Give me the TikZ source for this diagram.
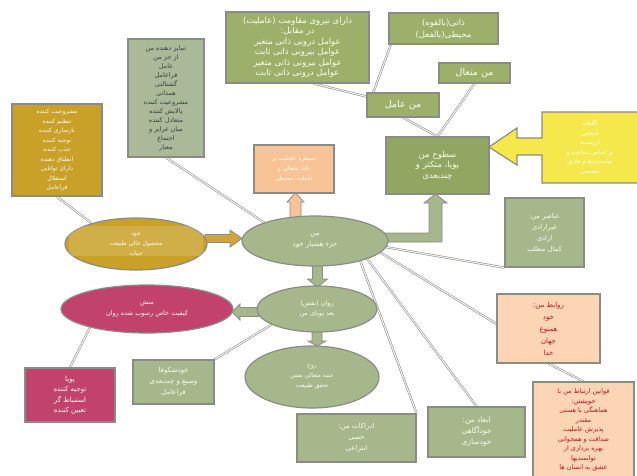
\documentclass[tikz,border=0pt]{standalone}
\usepackage{fontspec}
\usepackage{tikz}
\usetikzlibrary{shapes.geometric}
\usetikzlibrary{backgrounds}
\newfontfamily\fafont[Script=Arabic]{DejaVu Sans}
\TeXXeTstate=1
\newcommand{\fa}[1]{\beginR #1\endR}
\definecolor{edge}{HTML}{8C8C86}
\definecolor{olive}{HTML}{9CB06A}
\definecolor{deepolive}{HTML}{90A661}
\definecolor{sage}{HTML}{A5B78B}
\definecolor{ash}{HTML}{AAB997}
\definecolor{mustard}{HTML}{C9A128}
\definecolor{mustarrow}{HTML}{D6A23C}
\definecolor{berry}{HTML}{C2426E}
\definecolor{peach}{HTML}{FCD5B5}
\definecolor{apricot}{HTML}{F8C497}
\definecolor{lemon}{HTML}{F5E84C}
\definecolor{ink}{HTML}{C0141C}
\definecolor{txtw}{HTML}{FDFDEE}
\newcommand{\blockarrow}[7]{
\begin{scope}[shift={#1},rotate=#2]
\filldraw[fill=#7,draw=edge,line width=0.8pt] (0,-#5) -- (#3-#4,-#5) -- (#3-#4,-#6) -- (#3,0) -- (#3-#4,#6) -- (#3-#4,#5) -- (0,#5) -- cycle;
\end{scope}
}
\tikzset{
fs/.style 2 args={font=\fafont\fontsize{#1}{#2}\selectfont},
box/.style={draw=edge,line width=1.2pt,inner sep=2pt,align=center,text=txtw,fs={5.5}{9.5}},
oval/.style={box,ellipse,inner sep=0pt},
redbox/.style={box,fill=peach,text=ink},
link/.style={draw=edge,double=gray!15,double distance=1.2pt,line width=0.5pt}
}

\begin{document}
\begin{tikzpicture}[x=1pt,y=-1pt]
\useasboundingbox (0,0) rectangle (637,475);
\node[box,fill=olive,minimum width=143,minimum height=71,fs={8.5}{10.5}] (resist) at (297.5,47.5) {\fa{دارای نیروی مقاومت (عاملیت)}\\\fa{در مقابل:}\\\fa{عوامل درونی ذاتی متغیر}\\\fa{عوامل بیرونی ذاتی ثابت}\\\fa{عوامل بیرونی ذاتی متغیر}\\\fa{عوامل درونی ذاتی ثابت}};
\node[box,fill=olive,minimum width=109,minimum height=31,fs={8.5}{12}] (zati) at (443.5,28.5) {\fa{ذاتی(بالقوه)}\\\fa{محیطی(بالفعل)}};
\node[box,fill=olive,minimum width=71,minimum height=20,fs={9.5}{11}] (motaal) at (474.5,73) {\fa{من متعال}};
\node[box,fill=olive,minimum width=72,minimum height=24,fs={9.5}{11}] (amel) at (403,105) {\fa{من عامل}};
\node[box,fill=deepolive,minimum width=103,minimum height=57,fs={8.5}{10.5}] (sotuh) at (437.5,165.5) {\fa{سطوح من}\\\fa{پویا، متکثر و}\\\fa{چندبعدی}};
\node[box,fill=sage,minimum width=79,minimum height=69,fs={6.8}{11}] (anaser) at (544.5,232.5) {\fa{عناصر من:}\\\fa{غیرارادی}\\\fa{ارادی}\\\fa{کمال مطلب}};
\node[redbox,minimum width=103,minimum height=69,fs={7}{12}] (ravabet) at (548.5,328.5) {\fa{روابط من:}\\\fa{خود}\\\fa{همنوع}\\\fa{جهان}\\\fa{خدا}};
\node[redbox,minimum width=101,minimum height=96,fs={6.5}{9.5}] (qavanin) at (583.5,430) {\fa{قوانین ارتباط من با}\\\fa{خویشتن:}\\\fa{هماهنگی با هستی}\\\fa{مقتدر}\\\fa{پذیرش عاملیت}\\\fa{صداقت و همخوانی}\\\fa{بهره برداری از}\\\fa{توانمندیها}\\\fa{عشق به انسان ها}};
\node[box,fill=sage,minimum width=97,minimum height=50,fs={7.5}{11}] (abaad) at (476.5,432) {\fa{ابعاد من:}\\\fa{خودآگاهی}\\\fa{خودسازی}};
\node[box,fill=sage,minimum width=119,minimum height=48,fs={7}{11}] (edrakat) at (356.5,438) {\fa{ادراکات من:}\\\fa{حسی}\\\fa{انتزاعی}};
\node[box,fill=sage,minimum width=81,minimum height=44,fs={7}{11}] (shokufa) at (173.5,382) {\fa{خودشکوفا}\\\fa{وسیع و چندبعدی}\\\fa{فراعامل}};
\node[box,fill=berry,minimum width=90,minimum height=54,fs={7}{10.5}] (traits) at (70,395) {\fa{پویا}\\\fa{توجیه کننده}\\\fa{استنباط گر}\\\fa{تعیین کننده}};
\node[box,fill=mustard,minimum width=90,minimum height=92,fs={6}{9.5}] (roles) at (57,150) {\fa{مشروعیت کننده}\\\fa{تنظیم کننده}\\\fa{بازسازی کننده}\\\fa{توجیه کننده}\\\fa{جذب کننده}\\\fa{انطباق دهنده}\\\fa{دارای توانایی}\\\fa{استقلال}\\\fa{فراعامل}};
\node[box,fill=ash,text=black!75,minimum width=76,minimum height=118,fs={6.5}{9}] (tasks) at (166,98) {\fa{تمایز دهنده من}\\\fa{از جز من}\\\fa{عامل}\\\fa{فراعامل}\\\fa{گشتالتی}\\\fa{همذاتی}\\\fa{مشروعیت کننده}\\\fa{پالایش کننده}\\\fa{متعادل کننده}\\\fa{میان غرایز و}\\\fa{اجتماع}\\\fa{معیار}};
\node[box,fill=apricot,minimum width=80,minimum height=48,fs={5.8}{10}] (core) at (294,169) {\fa{سیطره عاملیت بر}\\\fa{ذات متعالی و}\\\fa{عاملیت محیطی}};
\node[oval,fill=mustard,minimum width=142,minimum height=52,fs={6}{10}] (khod) at (136,244) {\fa{خود}\\\fa{محصول عالی طبیعت}\\\fa{حیات}};
\fill[white,opacity=0.15] (69,226) rectangle (203,256);
\node[oval,fill=sage,minimum width=146,minimum height=50,fs={7}{11}] (man) at (315,241) {\fa{من}\\\fa{جزء هشیار خود}};
\node[oval,fill=berry,minimum width=172,minimum height=48,fs={6.5}{11}] (manesh) at (147,309) {\fa{منش}\\\fa{کیفیت خاص رسوب شده روان}};
\node[oval,fill=sage,minimum width=120,minimum height=46,fs={6.5}{10}] (ravan) at (317,309) {\fa{روان (نفس)}\\\fa{بعد پویای من}};
\node[oval,fill=sage,minimum width=134,minimum height=62,fs={6}{10}] (ruh) at (312,377) {\fa{روح}\\\fa{جنبه متعالی نفس}\\\fa{تحقق طبیعت}};
\filldraw[fill=lemon,draw=edge,line width=1.2pt] (645,112) -- (542,112) -- (542,138) -- (517,138) -- (517,128) -- (489,147) -- (517,165) -- (517,155) -- (542,155) -- (542,183) -- (645,183);
\node[box,draw=none,fs={5.8}{9.5}] (choice) at (590,147) {\fa{آگاهانه}\\\fa{انتخابی}\\\fa{ارزشمند}\\\fa{بر اساس شناخت و}\\\fa{توانمندی‌ها و علایق}\\\fa{شخصی}};
\begin{scope}[on background layer]
\fill[white] (0,0) rectangle (637,475);
\draw[link] (roles.south) -- (khod.155);
\draw[link] (tasks.south) -- (man.160);
\draw[link] (resist.-66) -- (amel.167);
\draw[link] (zati.-163) -- (amel.157);
\draw[link] (amel.south) -- (sotuh.north);
\draw[link] (motaal.south) -- (sotuh.north);
\draw[link] (man.-5) -- (anaser.south west);
\draw[link] (man.-10) -- (ravabet.175);
\draw[link] (man.-19) -- (abaad.north);
\draw[link] (man.-24) -- (edrakat.north east);
\draw[link] (ravabet.south) -- (qavanin.north);
\draw[link] (ravan.-161) -- (shokufa.north east);
\draw[link] (manesh.-162) -- (traits.north);
\blockarrow{(205,238.5)}{0}{37}{12}{4}{8.5}{mustarrow}
\blockarrow{(295.5,219)}{90}{26}{9}{5.5}{8.5}{apricot}
\blockarrow{(317.5,263)}{-90}{24}{8}{5}{10}{sage}
\blockarrow{(317,330)}{-90}{16}{5}{5}{9}{sage}
\blockarrow{(259,312)}{180}{27}{8}{4.5}{8}{sage}
\filldraw[fill=sage,draw=edge,line width=0.8pt] (380,233) -- (429,233) -- (429,203) -- (424,203) -- (435.5,194) -- (447,203) -- (442,203) -- (442,242) -- (380,242) -- cycle;
\end{scope}
\end{tikzpicture}
\end{document}
